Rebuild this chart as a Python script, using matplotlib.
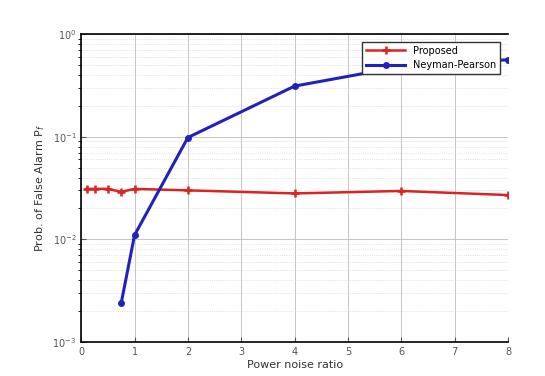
import matplotlib.pyplot as plt

# data
snr_prop = [0.1, 0.25, 0.5, 0.75, 1, 2, 4, 6, 8]
pfa_prop = [0.031, 0.031, 0.031, 0.029, 0.031, 0.030, 0.028, 0.0296, 0.027]

snr_np = [0.75, 1, 2, 4, 6, 8]
pfa_np = [0.0024, 0.011, 0.098, 0.31, 0.48, 0.56]

xticks = [0, 1, 2, 3, 4, 5, 6, 7, 8]

fig = plt.figure(figsize=(5.45, 3.76), dpi=100)
ax = fig.add_axes([0.149, 0.090, 0.783, 0.820])

ax.semilogy(snr_prop, pfa_prop, color='#dd2222', lw=1.8, marker='+',
            ms=6, mew=1.8, label='Proposed')
ax.semilogy(snr_np, pfa_np, color='#2222bb', lw=2.2, marker='.',
            ms=8, label='Neyman-Pearson')

ax.set_xlim(0, 8)
ax.set_ylim(1e-3, 1e0)
ax.set_xticks(xticks)
ax.grid(True, which='major', color='#bbbbbb', lw=0.6)
ax.grid(True, which='minor', color='#cccccc', lw=0.5, ls=':')
ax.tick_params(labelsize=7, colors='#555555', direction='in')
ax.spines['right'].set_visible(False)
for s in ['left', 'bottom', 'top']:
    ax.spines[s].set_linewidth(1.2)

ax.set_xlabel('Power noise ratio', fontsize=8, color='#333333', labelpad=2)
ax.set_ylabel('Prob. of False Alarm P$_f$', fontsize=8, color='#333333')

leg = ax.legend(loc='upper right', fontsize=7, frameon=True, fancybox=False,
                borderaxespad=0.8, handlelength=4)
leg.get_frame().set_edgecolor('#333333')
leg.get_frame().set_alpha(1)

plt.savefig('out.png', dpi=100)
